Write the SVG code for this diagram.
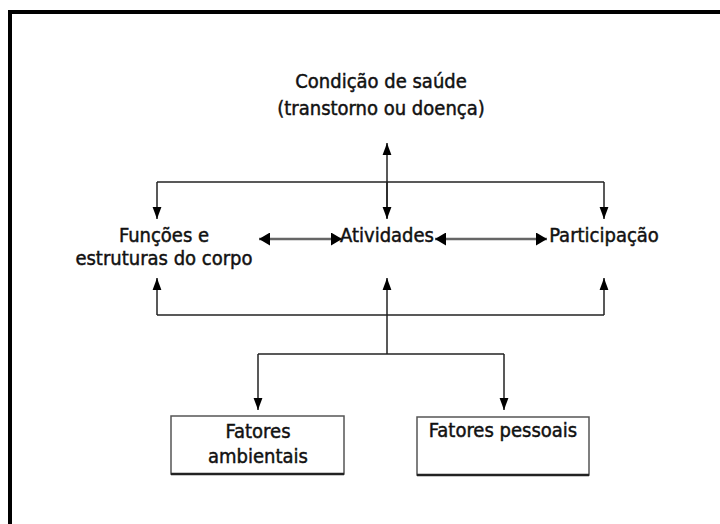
<svg xmlns="http://www.w3.org/2000/svg" width="720" height="524" viewBox="0 0 720 524">
<defs>
<style>
.t{font-family:"DejaVu Sans Condensed","DejaVu Sans","Liberation Sans",sans-serif;font-size:20px;fill:#111;text-anchor:middle;stroke:#111;stroke-width:0.45}
.ln{fill:none;stroke:#222;stroke-width:1.5}
.dl{fill:none;stroke:#666;stroke-width:2.5}
.box{fill:#fff;stroke:#555;stroke-width:1.5}
.edge{fill:none;stroke:#222;stroke-width:2.5}
</style>
<marker id="av" markerUnits="userSpaceOnUse" markerWidth="12" markerHeight="16" viewBox="0 0 15 12" refX="15" refY="6" orient="auto">
<path d="M0,0.5 L15,6 L0,11.5 Z" fill="#000"/>
</marker>
<marker id="ah" markerUnits="userSpaceOnUse" markerWidth="11" markerHeight="13" viewBox="0 0 11 13" refX="11" refY="6.5" orient="auto-start-reverse">
<path d="M0,0 L11,6.5 L0,13 Z" fill="#000"/>
</marker>
</defs>
<rect width="720" height="524" fill="#fff"/>
<path d="M10,530 V12 H730" fill="none" stroke="#000" stroke-width="4"/>

<g id="connectors">
<path class="ln" d="M387,218 V143" marker-end="url(#av)"/>
<path class="ln" d="M157,182 H604"/>
<path class="ln" d="M157,182 V219" marker-end="url(#av)"/>
<path class="ln" d="M387,182 V219" marker-end="url(#av)"/>
<path class="ln" d="M604,182 V219" marker-end="url(#av)"/>
<path class="dl" d="M259,239 H342" marker-start="url(#ah)" marker-end="url(#ah)"/>
<path class="dl" d="M435,239 H547" marker-start="url(#ah)" marker-end="url(#ah)"/>
<path class="ln" d="M157,315 H604"/>
<path class="ln" d="M157,315 V278" marker-end="url(#av)"/>
<path class="ln" d="M604,315 V278" marker-end="url(#av)"/>
<path class="ln" d="M387,354 V278" marker-end="url(#av)"/>
<path class="ln" d="M258,354 H504"/>
<path class="ln" d="M258,354 V410" marker-end="url(#av)"/>
<path class="ln" d="M504,354 V410" marker-end="url(#av)"/>
</g>

<g id="condicao">
<text class="t" x="381" y="88">Condição de saúde</text>
<text class="t" x="381" y="115">(transtorno ou doença)</text>
</g>
<g id="funcoes">
<text class="t" x="164" y="242">Funções e</text>
<text class="t" x="164" y="265">estruturas do corpo</text>
</g>
<g id="atividades">
<text class="t" x="387" y="242">Atividades</text>
</g>
<g id="participacao">
<text class="t" x="604" y="242">Participação</text>
</g>
<g id="ambientais">
<rect class="box" x="171" y="416" width="173" height="58"/>
<path class="edge" d="M171,474 H344"/>
<text class="t" x="258" y="438">Fatores</text>
<text class="t" x="258" y="463">ambientais</text>
</g>
<g id="pessoais">
<rect class="box" x="417" y="417" width="172" height="58"/>
<path class="edge" d="M417,475 H589"/>
<text class="t" x="503" y="437">Fatores pessoais</text>
</g>
</svg>
